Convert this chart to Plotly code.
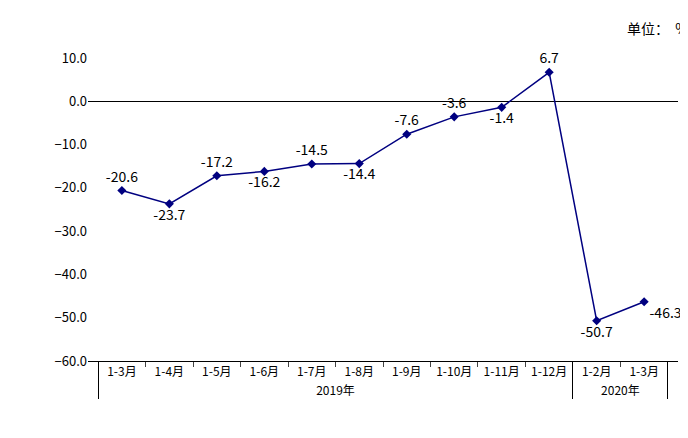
import plotly.graph_objects as go

years = ["2019年"]*10 + ["2020年"]*2
months = ["1-3月","1-4月","1-5月","1-6月","1-7月","1-8月","1-9月","1-10月","1-11月","1-12月","1-2月","1-3月\u200b"]
values = [-20.6,-23.7,-17.2,-16.2,-14.5,-14.4,-7.6,-3.6,-1.4,6.7,-50.7,-46.3]
positions = ["top center","bottom center","top center","bottom center","top center","bottom center",
             "top center","top center","bottom center","top center","bottom center","bottom right"]

fig = go.Figure(go.Scatter(
    x=[years, months], y=values, mode="lines+markers+text",
    line=dict(color="#000080", width=1.5),
    marker=dict(symbol="diamond", size=7, color="#000080"),
    text=[f"{v:.1f}" for v in values], textposition=positions,
    textfont=dict(size=14, color="#000", family="Noto Sans CJK SC"),
    cliponaxis=False,
))
fig.update_layout(
    width=688, height=438, paper_bgcolor="white", plot_bgcolor="white",
    margin=dict(l=80, r=18, t=50, b=85), showlegend=False,
    font=dict(family="Noto Sans CJK SC", size=12, color="#000"),
    annotations=[dict(text="单位：  %", xref="paper", yref="paper", x=1.02, y=1.14,
                      xanchor="right", showarrow=False, font=dict(size=14))],
)
fig.update_yaxes(range=[-60, 10], dtick=10, tickformat=".1f", showgrid=False,
                 zeroline=True, zerolinecolor="#000", zerolinewidth=1,
                 showline=False, ticks="", tickfont=dict(size=13))
fig.update_xaxes(showgrid=False, showline=True, linecolor="#000", showdividers=True,
                 dividercolor="#000", tickfont=dict(size=12), ticks="outside")
fig.write_html("out.html")
